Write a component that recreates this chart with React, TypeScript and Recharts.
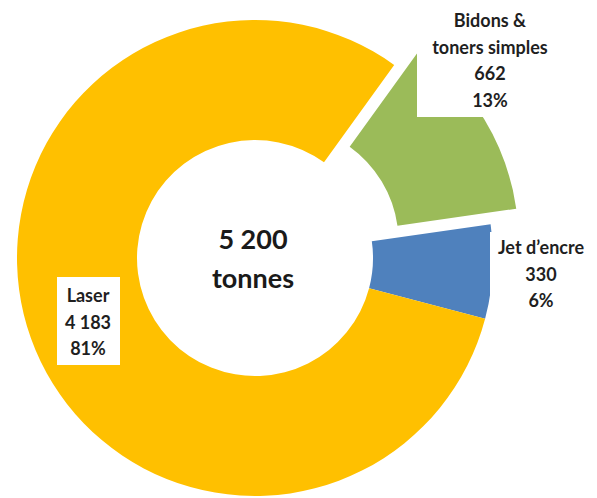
import { PieChart, Pie } from 'recharts';

// values (tonnes)
const categories = ['Laser', 'Jet d’encre', 'Bidons & toners simples'];
const labelNames = [['Laser'], ['Jet d’encre'], ['Bidons &', 'toners simples']];
const values = [4183, 330, 662];
const colors = ['#FFC000', '#4F81BD', '#9BBB59'];
const totalLines = ['5 200', 'tonnes'];

const W = 597;
const H = 498;
const CX = 255;
const CY = 258;
const INNER = 118;
const OUTER = 238;
const START_ANGLE = -14.8;
// counter-clockwise drawing order starting at START_ANGLE
const ORDER = [1, 2, 0];
// Excel-style point explosion in px
const EXPLODE = [0, 0, 30];

// label boxes, relative to the pie centre: box rect + text centre / first line centre
const LABEL_BOX = [
  { x: -198, y: 19, w: 63, h: 88, tx: -167, ty: 37 },
  { x: 235, y: -26, w: 100, h: 78, tx: 286, ty: -11 },
  { x: 162, y: -262, w: 146, h: 121, tx: 235, ty: -238 },
];
const LINE_H = 26.5;
const FONT = 'Lato, "Open Sans", sans-serif';

const total = values.reduce((a, b) => a + b, 0);
const fmt = (v: number) => String(v).replace(/\B(?=(\d{3})+(?!\d))/g, ' ');

const RAD = Math.PI / 180;

const makeLabel = (i: number) => () => {
  const b = LABEL_BOX[i];
  const lines = [...labelNames[i], fmt(values[i]), `${Math.round((values[i] / total) * 100)}%`];
  return (
    <g>
      <rect x={CX + b.x} y={CY + b.y} width={b.w} height={b.h} fill="#ffffff" />
      {lines.map((t, k) => (
        <text
          key={k}
          x={CX + b.tx}
          y={CY + b.ty + k * LINE_H}
          textAnchor="middle"
          dominantBaseline="central"
          fontFamily={FONT}
          fontWeight={700}
          fontSize={18}
          fill="#1f1f1f"
        >
          {t}
        </text>
      ))}
    </g>
  );
};

export default function App() {
  let angle = START_ANGLE;
  const slices = ORDER.map((i) => {
    const a0 = angle;
    const a1 = a0 + (360 * values[i]) / total;
    angle = a1;
    const mid = (a0 + a1) / 2;
    const cx = CX + EXPLODE[i] * Math.cos(mid * RAD);
    const cy = CY - EXPLODE[i] * Math.sin(mid * RAD);
    return { i, a0, a1, cx, cy };
  });

  return (
    <div style={{ position: 'absolute', left: 0, top: 0, width: W, height: H, background: '#fff' }}>
      <PieChart width={W} height={H} margin={{ top: 0, right: 0, bottom: 0, left: 0 }}>
        {slices.map((s) => (
          <Pie
            key={categories[s.i]}
            data={[{ name: categories[s.i], value: values[s.i] }]}
            dataKey="value"
            nameKey="name"
            cx={s.cx}
            cy={s.cy}
            innerRadius={INNER}
            outerRadius={OUTER}
            startAngle={s.a0}
            endAngle={s.a1}
            fill={colors[s.i]}
            stroke="none"
            label={makeLabel(s.i)}
            labelLine={false}
            isAnimationActive={false}
          />
        ))}
        <text x={CX - 2} y={CY - 20} textAnchor="middle" dominantBaseline="central" fontFamily={FONT} fontWeight={700} fontSize={27} fill="#1a1a1a">
          {totalLines[0]}
        </text>
        <text x={CX - 2} y={CY + 19} textAnchor="middle" dominantBaseline="central" fontFamily={FONT} fontWeight={700} fontSize={27} fill="#1a1a1a">
          {totalLines[1]}
        </text>
      </PieChart>
    </div>
  );
}
